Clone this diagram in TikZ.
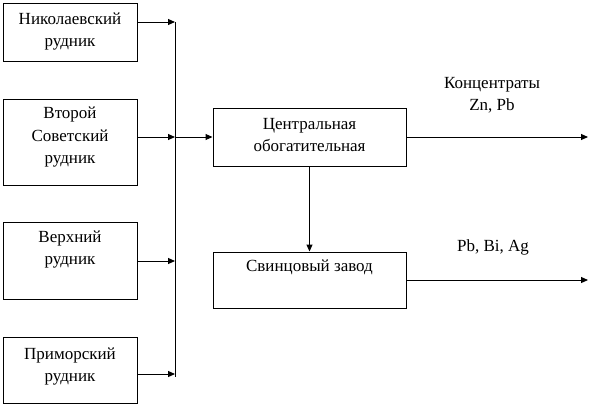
\documentclass[tikz,border=0pt]{standalone}
\usepackage{fontspec}
\setmainfont{Liberation Serif}
\newfontfamily\serifx{Liberation Serif}
\usetikzlibrary{arrows.meta}
\begin{document}
\begin{tikzpicture}[x=1pt,y=-1pt,
  box/.style={draw, line width=1pt, minimum width=#1, inner sep=0pt},
  box/.default=134pt,
  txt/.style={align=center, font=\serifx\fontsize{17}{22.5}\selectfont, inner sep=0pt},
  conn/.style={line width=1pt, -{Triangle[length=7pt,width=6pt]}},
  plain/.style={line width=1pt}]
\useasboundingbox (0,0) rectangle (609,408);
% mine boxes
\node[box, minimum height=58pt] (b1) at (70,32) {};
\node[box, minimum height=86pt] (b2) at (70,142) {};
\node[box, minimum height=77pt] (b3) at (70,260.5) {};
\node[box, minimum height=66pt] (b4) at (70,370) {};
\node[txt] (t1) at (70,31.5) {Николаевский\\рудник};
\node[txt] (t2) at (70,137.5) {Второй\\Советский\\рудник};
\node[txt] (t3) at (70,249.5) {Верхний\\рудник};
\node[txt] (t4) at (70,366.5) {Приморский\\рудник};
% plant boxes
\node[box=193pt, minimum height=58pt] (c) at (309.5,137) {};
\node[box=193pt, minimum height=56pt] (l) at (309.5,280) {};
\node[txt] (tc) at (309.5,135) {Центральная\\обогатительная};
\node[txt] (tl) at (309.5,267) {Свинцовый завод};
% collector line
\coordinate (v1) at (175,22);
\coordinate (v2) at (175,137);
\coordinate (v3) at (175,261);
\coordinate (v4) at (175,377);
\draw[plain] (v1) -- (v4);
\draw[conn] (b1.east |- v1) -- (v1);
\draw[conn] (b2.east |- v2) -- (v2);
\draw[conn] (b3.east |- v3) -- (v3);
\draw[conn] (b4.east |- 0,374) -- (175,374);
\draw[conn] (v2) -- (c.west);
\draw[conn] (c.south) -- (l.north);
% outputs
\coordinate (o1) at (588,137);
\coordinate (o2) at (588,280);
\draw[conn] (c.east) -- (o1);
\draw[conn] (l.east) -- (o2);
\node[txt] (lo1) at (492,95) {Концентраты\\Zn, Pb};
\node[txt] (lo2) at (493,247) {Pb, Bi, Ag};
\end{tikzpicture}
\end{document}
